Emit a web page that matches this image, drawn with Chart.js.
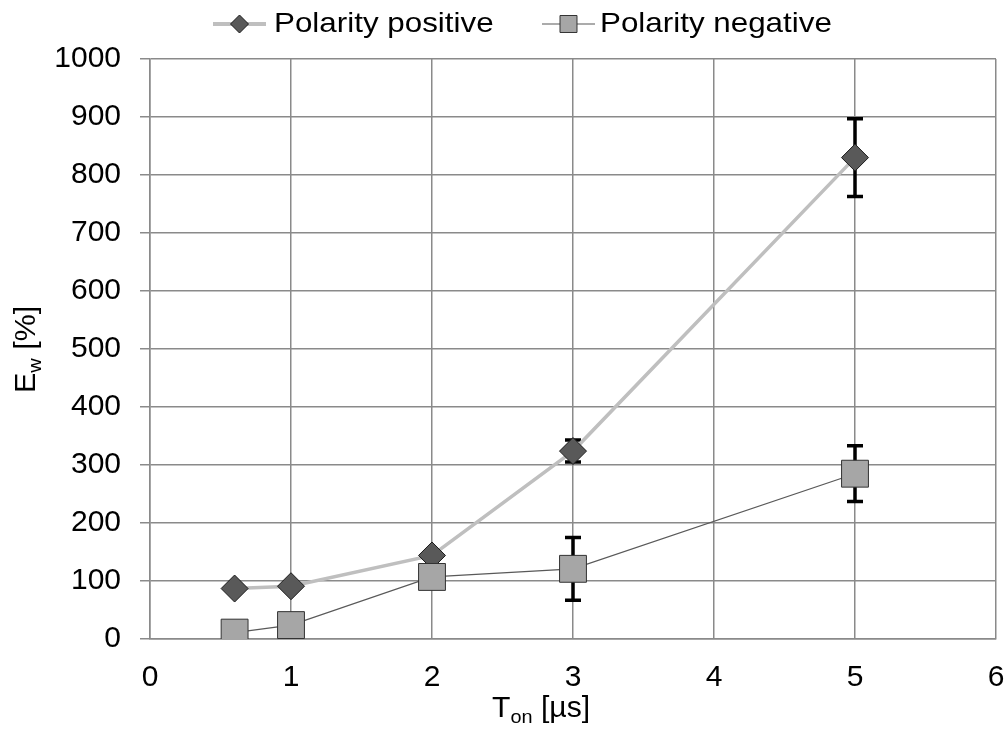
<!DOCTYPE html>
<html>
<head>
<meta charset="utf-8">
<title>Ew vs Ton</title>
<script src="https://cdn.jsdelivr.net/npm/chart.js@4.4.1/dist/chart.umd.min.js"></script>
<style>
  html, body { margin: 0; padding: 0; background: #fff; }
  #wrap { width: 1008px; height: 729px; position: relative; }
</style>
</head>
<body>
<div id="wrap"><canvas id="chart" width="1008" height="729"></canvas></div>
<script>
// pulse on-time [µs]
var tOn = [0.6, 1, 2, 3, 5];
// wear [%] and its spread, positive polarity
var ewPositive = [87, 91, 144, 324, 830];
var ewPositiveErr = [4, 4, 6, 19, 67];
// wear [%] and its spread, negative polarity
var ewNegative = [11, 24, 107, 121, 285];
var ewNegativeErr = [4, 4, 8, 54, 48];

var seriesNames = ['Polarity positive', 'Polarity negative'];
var xTitle = [['T', false], ['on', true], [' [µs]', false]];
var yTitle = [['E', false], ['w', true], [' [%]', false]];

var FONT = "'Liberation Sans', Arial, sans-serif";
var STRETCH = 1.12; // the text in this figure runs a little wide

function toPoints(xs, ys) {
    return xs.map(function(x, i) { return { x: x, y: ys[i] }; });
}

// text with subscript pieces, drawn left to right from (0,0) baseline
function drawRich(ctx, parts, size) {
    var pos = 0;
    parts.forEach(function(p) {
        var s = p[1] ? size * 0.66 : size;
        ctx.font = s + 'px ' + FONT;
        ctx.fillText(p[0], pos, p[1] ? size * 0.22 : 0);
        pos += ctx.measureText(p[0]).width;
    });
    return pos;
}

var errorBars = {
    id: 'errorBars',
    beforeDatasetsDraw: function(chart) {
        var ctx = chart.ctx;
        var xs = chart.scales.x, ys = chart.scales.y;
        ctx.save();
        ctx.strokeStyle = '#000';
        ctx.lineWidth = 3.5;
        [[ewPositive, ewPositiveErr], [ewNegative, ewNegativeErr]].forEach(function(s) {
            s[0].forEach(function(v, i) {
                var px = xs.getPixelForValue(tOn[i]);
                var top = ys.getPixelForValue(v + s[1][i]);
                var bot = ys.getPixelForValue(v - s[1][i]);
                ctx.beginPath();
                ctx.moveTo(px, top);
                ctx.lineTo(px, bot);
                ctx.moveTo(px - 8, top);
                ctx.lineTo(px + 8, top);
                ctx.moveTo(px - 8, bot);
                ctx.lineTo(px + 8, bot);
                ctx.stroke();
            });
        });
        ctx.restore();
    }
};

var labels = {
    id: 'labels',
    afterDraw: function(chart) {
        var ctx = chart.ctx;
        ctx.save();
        ctx.fillStyle = '#000';
        ctx.textBaseline = 'alphabetic';
        ctx.textAlign = 'left';

        // legend
        var items = [
            { lx: 213, tx: 274, color: '#bfbfbf', lw: 4, style: 'rectRot', r: 9, fill: '#595959', border: '#1a1a1a' },
            { lx: 542, tx: 600, color: '#595959', lw: 1.2, style: 'rect', r: 12, fill: '#a6a6a6', border: '#333' }
        ];
        items.forEach(function(it, i) {
            ctx.strokeStyle = it.color;
            ctx.lineWidth = it.lw;
            ctx.beginPath();
            ctx.moveTo(it.lx, 24);
            ctx.lineTo(it.lx + 53, 24);
            ctx.stroke();
            ctx.fillStyle = it.fill;
            ctx.strokeStyle = it.border;
            ctx.lineWidth = 1;
            Chart.helpers.drawPoint(ctx, { pointStyle: it.style, radius: it.r, borderWidth: 1 }, it.lx + 26.5, 24);
            ctx.fillStyle = '#000';
            ctx.save();
            ctx.translate(it.tx, 32);
            ctx.scale(STRETCH, 1);
            ctx.font = '28px ' + FONT;
            ctx.fillText(seriesNames[i], 0, 0);
            ctx.restore();
        });

        // x axis title
        ctx.save();
        ctx.translate(492, 717);
        ctx.scale(1.04, 1);
        drawRich(ctx, xTitle, 29);
        ctx.restore();

        // y axis title
        ctx.save();
        ctx.translate(35, 393);
        ctx.rotate(-Math.PI / 2);
        ctx.scale(1.05, 1);
        drawRich(ctx, yTitle, 29);
        ctx.restore();

        ctx.restore();
    }
};

var ctx = document.getElementById('chart').getContext('2d');
var chart = new Chart(ctx, {
    type: 'scatter',
    data: {
        datasets: [{
            label: seriesNames[1],
            data: toPoints(tOn, ewNegative),
            showLine: true,
            borderColor: '#595959',
            borderWidth: 1.2,
            pointStyle: 'rect',
            pointRadius: 19,
            pointBackgroundColor: '#a6a6a6',
            pointBorderColor: '#333',
            pointBorderWidth: 1
        }, {
            label: seriesNames[0],
            data: toPoints(tOn, ewPositive),
            showLine: true,
            borderColor: '#bfbfbf',
            borderWidth: 3.5,
            pointStyle: 'rectRot',
            pointRadius: 13.5,
            pointBackgroundColor: '#595959',
            pointBorderColor: '#1a1a1a',
            pointBorderWidth: 1
        }]
    },
    options: {
        responsive: false,
        animation: false,
        events: [],
        layout: { autoPadding: false, padding: { top: 59, right: 12, left: 0, bottom: 0 } },
        plugins: {
            legend: { display: false },
            tooltip: { enabled: false }
        },
        scales: {
            x: {
                type: 'linear',
                min: 0,
                max: 6,
                ticks: { stepSize: 1, padding: 21, color: '#000', font: { family: FONT, size: 30 } },
                grid: { color: '#8a8a8a', lineWidth: 1.5, drawTicks: false },
                border: { color: '#8a8a8a', width: 1.5 },
                afterFit: function(s) {
                    s.height = 90;
                    s.paddingLeft = 0;
                    s.paddingRight = 0;
                }
            },
            y: {
                min: 0,
                max: 1000,
                ticks: {
                    stepSize: 100, padding: 19, color: '#000', font: { family: FONT, size: 30 },
                    callback: function(v) { return String(v); }
                },
                grid: { color: '#8a8a8a', lineWidth: 1.5, tickLength: 10 },
                border: { color: '#8a8a8a', width: 1.5 },
                afterFit: function(s) { s.width = 150; }
            }
        }
    },
    plugins: [errorBars, labels]
});
</script>
</body>
</html>
